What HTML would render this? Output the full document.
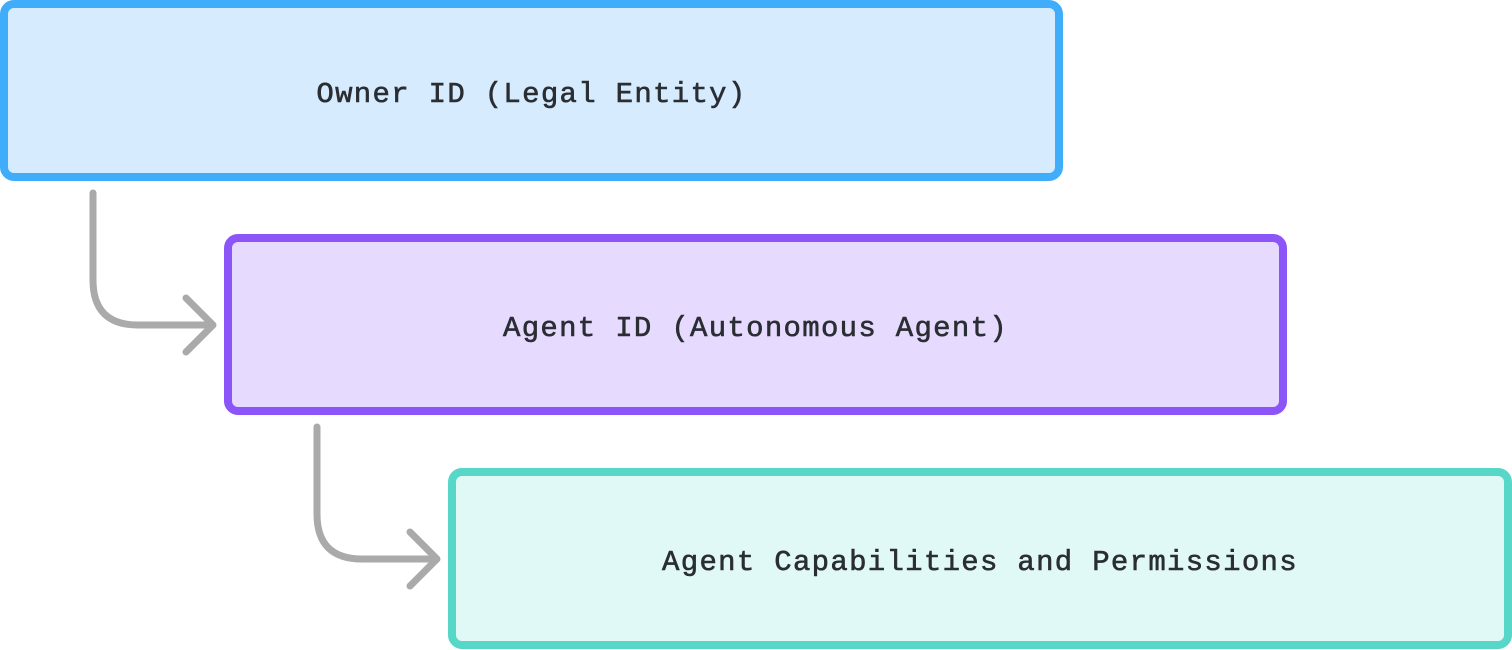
<!DOCTYPE html>
<html><head><meta charset="utf-8"><style>
body{margin:0;width:1512px;height:650px;background:#fff;position:relative;overflow:hidden}
.b{position:absolute;box-sizing:border-box;border:8px solid;border-radius:14px;display:flex;align-items:center;justify-content:center;padding-top:8px;font-family:"Liberation Mono",monospace;font-size:29px;letter-spacing:1.3px;color:#2a2e33;font-weight:normal;-webkit-text-stroke:0.6px #2a2e33}
</style></head><body>
<div class="b" style="left:0;top:0;width:1063px;height:181px;border-color:#40adfb;background:#d6ebfe">Owner ID (Legal Entity)</div>
<div class="b" style="left:224px;top:234px;width:1063px;height:181px;border-color:#8b55f8;background:#e6dafe">Agent ID (Autonomous Agent)</div>
<div class="b" style="left:448px;top:468px;width:1064px;height:181px;border-color:#56d7c7;background:#e0f9f6">Agent Capabilities and Permissions</div>
<svg width="1512" height="650" style="position:absolute;left:0;top:0" fill="none" stroke="#aaaaaa" stroke-width="7" stroke-linecap="round" stroke-linejoin="round">
<path d="M93 193 V280 Q93 325 138 325 H212 M186 298 L213 325 L186 352"/>
<path d="M317 427 V514 Q317 559 362 559 H436 M410 532 L437 559 L410 586"/>
</svg>
</body></html>
